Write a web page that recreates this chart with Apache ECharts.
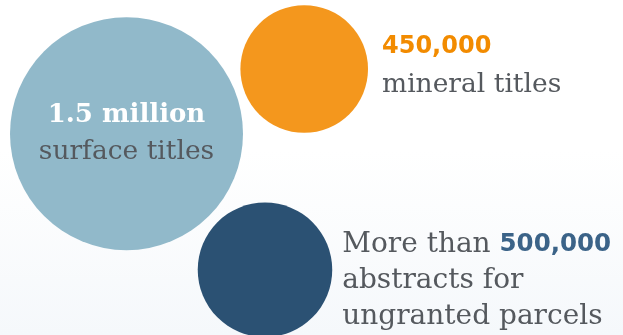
<!DOCTYPE html>
<html>
<head>
<meta charset="utf-8">
<script src="https://cdn.jsdelivr.net/npm/echarts@6/dist/echarts.min.js"></script>
<style>
  html, body { margin: 0; padding: 0; background: #fff; }
  #chart { width: 623px; height: 335px; }
</style>
</head>
<body>
<div id="chart"></div>
<script>
// ---- data ----
const categories = ['surface titles', 'mineral titles', 'abstracts for ungranted parcels'];
const values = [1500000, 450000, 500000];
const headlines = ['1.5 million', '450,000', '500,000'];

// ---- layout (not data) ----
const anchor = [126.5, 133.7];      // centre of the largest bubble, in axis units (= px)
const angles = [0, -20.0, 44.5];    // direction of each satellite bubble from the anchor (deg)
const gaps = [0, 8.8, 10.4];        // empty space between satellite and the largest bubble
const sizeScale = 233 / Math.sqrt(1500000); // bubble area proportional to value
const colors = ['#91b9ca', '#f4971d', '#2b5173'];

const W = 623, H = 335;
const diam = values.map(v => sizeScale * Math.sqrt(v));
const centres = values.map((v, i) => {
  if (i === 0) return anchor.slice();
  const d = diam[0] / 2 + diam[i] / 2 + gaps[i];
  const a = angles[i] * Math.PI / 180;
  return [anchor[0] + d * Math.cos(a), anchor[1] + d * Math.sin(a)];
});

const serif = 'DejaVu Serif';
const gray = '#55595e';
const rich = {
  big: { fontFamily: serif, fontWeight: 'bold', fontSize: 26, color: '#ffffff', lineHeight: 37 },
  org: { fontFamily: 'DejaVu Sans', fontWeight: 'bold', fontSize: 24, color: '#f28b00', lineHeight: 39 },
  blu: { fontFamily: 'DejaVu Sans', fontWeight: 'bold', fontSize: 24.5, color: '#3b6388', lineHeight: 36 },
  n37: { fontFamily: serif, fontSize: 26.5, color: gray, lineHeight: 37 },
  n39: { fontFamily: serif, fontSize: 26.5, color: gray, lineHeight: 39 },
  n36: { fontFamily: serif, fontSize: 28, color: gray, lineHeight: 36 }
};

const labels = [
  { show: true, position: 'inside', align: 'center', verticalAlign: 'middle',
    formatter: `{big|${headlines[0]}}\n{n37|${categories[0]}}`, offset: [0, 0] },
  { show: true, position: 'right', distance: 14, align: 'left', verticalAlign: 'middle',
    formatter: `{org|${headlines[1]}}\n{n39|${categories[1]}}`, offset: [0, -3] },
  { show: true, position: 'right', distance: 10, align: 'left', verticalAlign: 'middle',
    formatter: `{n36|More than }{blu|${headlines[2]}}\n{n36|abstracts for}\n{n36|ungranted parcels}`, offset: [0, 11] }
];

const data = values.map((v, i) => ({
  name: categories[i],
  value: [centres[i][0], centres[i][1], v],
  symbolSize: diam[i],
  itemStyle: { color: colors[i], opacity: 1 },
  label: Object.assign({ rich, opacity: 1 }, labels[i])
}));

const chart = echarts.init(document.getElementById('chart'), null, { renderer: 'canvas' });
chart.setOption({
  animation: false,
  backgroundColor: {
    type: 'linear', x: 0, y: 0, x2: 0, y2: 1,
    colorStops: [
      { offset: 0, color: '#ffffff' },
      { offset: 0.45, color: '#ffffff' },
      { offset: 1, color: '#f5f8fb' }
    ]
  },
  grid: { left: 0, right: 0, top: 0, bottom: 0 },
  xAxis: { type: 'value', min: 0, max: W, show: false },
  yAxis: { type: 'value', min: 0, max: H, inverse: true, show: false },
  series: [{
    type: 'scatter',
    data: data,
    itemStyle: { opacity: 1 },
    emphasis: { disabled: true },
    clip: false
  }]
});
</script>
</body>
</html>
